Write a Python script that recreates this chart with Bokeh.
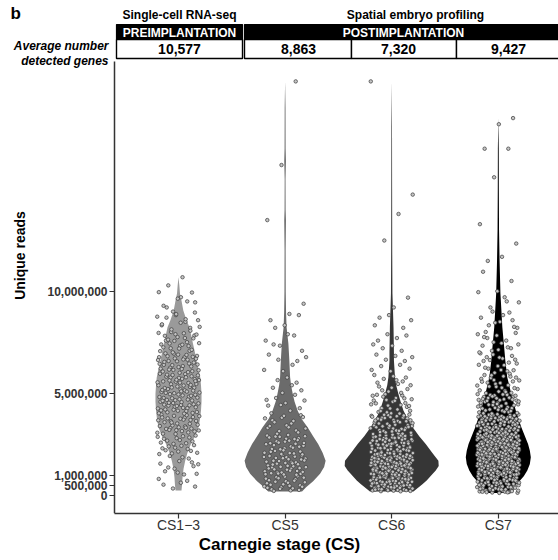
import numpy as np
from bokeh.plotting import figure
from bokeh.models import (Range1d, FixedTicker, NumeralTickFormatter, ColumnDataSource, LinearAxis)
from bokeh.embed import file_html
from bokeh.resources import INLINE
from bokeh.core.properties import value

# ---------------- data ----------------
stages = ["CS1\u22123", "CS5", "CS6", "CS7"]
stage_pos = [1, 2, 3, 4]
sources = ["Single-cell RNA-seq", "Spatial embryo profiling"]
periods = ["PREIMPLANTATION", "POSTIMPLANTATION"]
avg_genes = ["10,577", "8,863", "7,320", "9,427"]
row_label = ["Average number", "detected genes"]
panel_letter = "b"
y_ticks = [0, 500_000, 1_000_000, 5_000_000, 10_000_000]
violin_colors = ["#9a9a9a", "#6b6b6b", "#363636", "#000000"]

# violin outlines: levels (millions of reads) and half-widths (category units)
cs13_lv = [10.7, 10.3, 9.9, 9.5, 9.07, 8.6, 8.25, 7.8, 7.44, 7.0, 6.6, 6.2, 5.8, 5.4, 4.98,
           4.6, 4.17, 3.75, 3.35, 2.9, 2.53, 2.1, 1.7, 1.3, 0.9, 0.5, 0.25]
cs13_hw = [0, .008, .014, .030, .045, .075, .103, .122, .136, .155, .169, .188, .204, .211, .216,
           .216, .211, .202, .188, .155, .117, .084, .063, .047, .038, .033, .028]
cs5_lv = [20.3, 19.0, 17.0, 16.4, 15.5, 14.0, 13.5, 12.0, 10.0, 9.0, 8.25, 7.44, 6.6, 5.8, 5.4,
          4.98, 4.6, 4.17, 3.75, 3.35, 2.9, 2.53, 2.1, 1.7, 1.4, 1.07, 0.7, 0.4, 0.2]
cs5_hw = [0, .004, .005, .008, .004, .005, .008, .005, .006, .009, .014, .031, .040, .047, .056,
          .072, .089, .117, .155, .211, .263, .310, .352, .380, .366, .328, .263, .197, .159]
cs6_lv = [20.3, 18.0, 15.0, 12.0, 9.9, 8.25, 7.0, 6.6, 5.8, 5.4, 4.98, 4.6, 4.17, 3.75, 3.35,
          2.9, 2.53, 2.1, 1.7, 1.45, 1.23, 1.07, 0.74, 0.57, 0.2]
cs6_hw = [0, .003, .004, .005, .007, .017, .021, .021, .031, .042, .063, .084, .110, .150, .197,
          .258, .319, .380, .438, .441, .413, .385, .328, .291, .204]
cs7_lv = [18.5, 17.0, 15.0, 13.0, 11.5, 9.9, 8.25, 7.44, 6.6, 5.8, 4.98, 4.17, 3.35, 2.53, 2.2,
          1.87, 1.55, 1.23, 0.95, 0.74, 0.45, 0.12]
cs7_hw = [0, .004, .005, .007, .012, .020, .038, .052, .066, .084, .122, .164, .216, .279, .296,
          .305, .296, .272, .239, .204, .150, .103]

# cells: lowest value (millions), counts per 1M bin, and sparse high values (millions)
cs13_min = 0.25
cs13_counts = [6, 14, 24, 36, 42, 42, 36, 26, 16, 6]
cs13_tail = [9.3, 9.65, 9.95, 10.3, 10.7]
cs5_min = 0.2
cs5_counts = [28, 45, 35, 18, 10, 7, 7, 6, 4]
cs5_tail = [8.9, 9.4, 13.5, 16.2, 20.3]
cs6_min = 0.2
cs6_counts = [75, 105, 75, 50, 28, 15, 10, 8, 5, 1]
cs6_tail = [9.7, 12.5, 13.8, 14.75, 20.3]
cs7_min = 0.12
cs7_counts = [80, 150, 140, 85, 50, 28, 20, 15, 10, 6, 3]
cs7_tail = [11.5, 11.7, 12.35, 13.3, 15.6, 17.0, 17.0, 18.2, 18.5]

violins = [(cs13_lv, cs13_hw), (cs5_lv, cs5_hw), (cs6_lv, cs6_hw), (cs7_lv, cs7_hw)]
cells = [(cs13_min, cs13_counts, cs13_tail), (cs5_min, cs5_counts, cs5_tail),
         (cs6_min, cs6_counts, cs6_tail), (cs7_min, cs7_counts, cs7_tail)]

FONT = "Liberation Sans"
M = 1e6
X0, X1 = -0.6698, 4.5647          # category-unit extent of the drawing area
AX_X = 0.4                        # where the y axis sits (category units)
TITLE_X = -0.4165                 # where the y title sits (category units)
Y0, Y1 = -0.882 * M, 24.265 * M   # reads extent of the drawing area
Y_AX_TOP = 21.27 * M
TITLE_SPAN = (9.7 * M, 13.8 * M)  # vertical span the y title is centred on

# ---------------- figure ----------------
p = figure(width=558, height=560, output_backend="svg", toolbar_location=None,
           x_range=Range1d(X0, X1), y_range=Range1d(Y0, Y1),
           min_border_left=0, min_border_right=0, min_border_top=0, min_border_bottom=47,
           x_axis_location=None, y_axis_location=None)
p.outline_line_color = None
p.grid.visible = False
p.background_fill_color = "white"
p.border_fill_color = "white"

# page-pixel ranges for the header table
p.extra_x_ranges = {"px": Range1d(0, 558)}
p.extra_y_ranges = {"px": Range1d(513, 0)}

xaxis = LinearAxis(ticker=FixedTicker(ticks=stage_pos), bounds=(AX_X, X1),
                   major_label_overrides={pos: s for pos, s in zip(stage_pos, stages)})
xaxis.axis_label = "Carnegie stage (CS)"
xaxis.axis_label_text_font = FONT
xaxis.axis_label_text_font_style = "bold"
xaxis.axis_label_text_font_size = "17px"
xaxis.axis_label_text_color = "black"
xaxis.axis_label_standoff = -1
xaxis.major_label_text_font = FONT
xaxis.major_label_text_font_size = "14px"
xaxis.major_label_text_color = "#333333"
xaxis.major_label_standoff = -2
xaxis.axis_line_color = "#333333"
xaxis.axis_line_width = 1.5
xaxis.major_tick_line_color = "#333333"
xaxis.major_tick_line_width = 1.2
xaxis.major_tick_out = 5
xaxis.major_tick_in = 0
xaxis.minor_tick_line_color = None
p.add_layout(xaxis, "below")

yaxis = LinearAxis(ticker=FixedTicker(ticks=y_ticks), formatter=NumeralTickFormatter(format="0,0"),
                   bounds=(Y0, Y_AX_TOP), fixed_location=AX_X)
yaxis.major_label_text_font = FONT
yaxis.major_label_text_font_style = "bold"
yaxis.major_label_text_font_size = "12px"
yaxis.major_label_text_color = "#333333"
yaxis.major_label_standoff = 2
yaxis.axis_line_color = "#333333"
yaxis.axis_line_width = 1.5
yaxis.major_tick_line_color = "#333333"
yaxis.major_tick_line_width = 1.2
yaxis.major_tick_out = 5
yaxis.major_tick_in = 0
yaxis.minor_tick_line_color = None
p.add_layout(yaxis, "left")

# y title carried by a bare axis so it can sit where the original has it
ytitle = LinearAxis(ticker=FixedTicker(ticks=[]), bounds=TITLE_SPAN, fixed_location=TITLE_X)
ytitle.axis_label = "Unique reads"
ytitle.axis_label_text_font = FONT
ytitle.axis_label_text_font_style = "bold"
ytitle.axis_label_text_font_size = "14px"
ytitle.axis_label_text_color = "black"
ytitle.axis_label_standoff = 0
ytitle.axis_line_color = None
ytitle.major_tick_line_color = None
ytitle.minor_tick_line_color = None
ytitle.major_label_text_color = None
p.add_layout(ytitle, "left")

# violins
vx, vy = [], []
for pos, (lv, hw) in zip(stage_pos, violins):
    lv = np.array(lv) * M
    hw = np.array(hw)
    vx.append(list(pos + hw) + list((pos - hw)[::-1]))
    vy.append(list(lv) + list(lv[::-1]))
p.patches(xs="xs", ys="ys", fill_color="color", line_color=None,
          source=ColumnDataSource(dict(xs=vx, ys=vy, color=violin_colors)))


def vdc(n, base):
    """van der Corput radical inverse (deterministic jitter spread)."""
    q, denom = 0.0, 1.0
    while n:
        n, r = divmod(n, base)
        denom *= base
        q += r / denom
    return q


# jittered cells
px_, py_ = [], []
for k, (pos, (lo, counts, tail)) in enumerate(zip(stage_pos, cells)):
    ys = []
    for i, c in enumerate(counts):
        a, b = max(i, lo), i + 1
        for j in range(c):
            ys.append(a + vdc(j + 1 + 3 * i, 2) * (b - a))
    ys += tail
    for n, yv in enumerate(ys):
        off = (vdc(n + 7 + 11 * k, 3) - 0.5) * 0.4
        px_.append(pos + off)
        py_.append(yv * M)
p.scatter(px_, py_, size=3.5, fill_color="#c4c4c4", line_color="#3a3a3a", line_width=0.7)

# header table (page pixel coordinates)
hdr = dict(x_range_name="px", y_range_name="px")
p.text(x=[10], y=[3], text=[panel_letter], text_font=value(FONT), text_font_style="bold",
       text_font_size="17px", text_align="left", text_baseline="top", text_color="black", **hdr)
p.quad(left=[116, 244], right=[242, 562], top=[24, 24], bottom=[39, 39],
       fill_color="black", line_color="black", line_width=1.2, **hdr)
p.quad(left=[116, 244, 351, 456], right=[242, 351, 456, 562], top=[39] * 4, bottom=[58] * 4,
       fill_color="white", line_color="black", line_width=1.4, **hdr)
p.text(x=[179, 415], y=[14, 14], text=sources, text_font=value(FONT), text_font_style="bold",
       text_font_size="12px", text_align="center", text_baseline="middle", text_color="black", **hdr)
p.text(x=[179, 403], y=[32, 32], text=periods, text_font=value(FONT), text_font_style="bold",
       text_font_size="12px", text_align="center", text_baseline="middle", text_color="white", **hdr)
p.text(x=[179, 298, 398, 508], y=[48.5] * 4, text=avg_genes, text_font=value(FONT),
       text_font_style="bold", text_font_size="14px", text_align="center", text_baseline="middle",
       text_color="black", **hdr)
p.text(x=[108, 108], y=[45, 60], text=row_label, text_font=value(FONT),
       text_font_style="bold italic", text_font_size="12px", text_align="right",
       text_baseline="middle", text_color="black", **hdr)

open("out.html", "w").write(file_html(p, INLINE))
